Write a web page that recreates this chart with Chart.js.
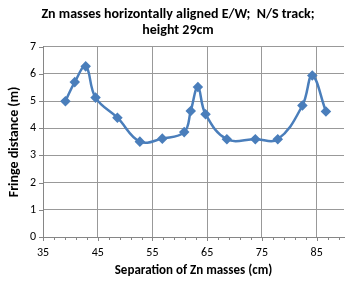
<!DOCTYPE html>
<html>
<head>
<meta charset="utf-8">
<script src="https://cdn.jsdelivr.net/npm/chart.js@4.4.0/dist/chart.umd.min.js"></script>
<style>
  body { margin: 0; background: #fff; }
  #wrap { width: 350px; height: 283px; }
</style>
</head>
<body>
<div id="wrap"><canvas id="myChart" width="350" height="283"></canvas></div>
<script>
// separation of Zn masses (cm)
const separation = [39.1, 40.8, 42.8, 44.6, 48.6, 52.7, 56.8, 60.8, 62.0, 63.3, 64.7, 68.6, 73.8, 77.9, 82.4, 84.2, 86.7];
// fringe distance (m)
const fringe = [5.0, 5.7, 6.28, 5.13, 4.39, 3.51, 3.62, 3.86, 4.64, 5.52, 4.52, 3.6, 3.6, 3.6, 4.84, 5.94, 4.62];
const xTicks = [35, 45, 55, 65, 75, 85];
const yTicks = [0, 1, 2, 3, 4, 5, 6, 7];

const points = separation.map((x, i) => ({ x: x, y: fringe[i] }));
const font = "Calibri, Carlito, 'Open Sans', sans-serif";

// small tick marks like the spreadsheet axes
const tickMarks = {
  id: 'tickMarks',
  afterDraw(chart) {
    const ctx = chart.ctx;
    const xs = chart.scales.x, ys = chart.scales.y;
    ctx.save();
    ctx.strokeStyle = '#868686';
    ctx.lineWidth = 1;
    ctx.beginPath();
    for (let v = 35; v <= 89; v += 2) {
      const px = Math.round(xs.getPixelForValue(v)) + 0.5;
      const len = xTicks.includes(v) ? 4 : 3;
      ctx.moveTo(px, ys.bottom);
      ctx.lineTo(px, ys.bottom + len);
    }
    yTicks.forEach(v => {
      const py = Math.round(ys.getPixelForValue(v)) + 0.5;
      ctx.moveTo(xs.left - 4, py);
      ctx.lineTo(xs.left, py);
    });
    ctx.stroke();
    ctx.restore();
  }
};

new Chart(document.getElementById('myChart').getContext('2d'), {
  type: 'scatter',
  data: {
    datasets: [{
      data: points,
      showLine: true,
      tension: 0.4,
      borderColor: '#4a7ebb',
      backgroundColor: '#4a7ebb',
      borderWidth: 2.5,
      pointStyle: 'rectRot',
      pointRadius: 3.5,
      pointHoverRadius: 3.5
    }]
  },
  options: {
    responsive: false,
    animation: false,
    layout: { padding: { left: 6, right: 0, top: 0, bottom: 4 } },
    plugins: {
      legend: { display: false },
      tooltip: { enabled: false },
      title: {
        display: true,
        text: ['Zn masses horizontally aligned E/W;  N/S track;', 'height 29cm'],
        color: '#000',
        font: { family: font, size: 14, weight: 'bold', lineHeight: 1.1 },
        padding: { top: 7, bottom: 9 }
      }
    },
    scales: {
      x: {
        type: 'linear',
        min: 35,
        max: 90,
        afterBuildTicks: axis => { axis.ticks = xTicks.map(v => ({ value: v })); },
        afterFit: axis => { axis.height = 42; },
        grid: { color: '#999', drawTicks: false },
        border: { color: '#868686' },
        ticks: { color: '#000', font: { family: font, size: 12 }, padding: 9 },
        title: {
          display: true,
          text: 'Separation of Zn masses (cm)',
          color: '#000',
          font: { family: font, size: 13, weight: 'bold' },
          padding: { top: 0, bottom: 0 }
        }
      },
      y: {
        min: 0,
        max: 7,
        afterBuildTicks: axis => { axis.ticks = yTicks.map(v => ({ value: v })); },
        afterFit: axis => { axis.width = 37; },
        grid: { color: '#999', drawTicks: false },
        border: { color: '#868686' },
        ticks: { color: '#000', font: { family: font, size: 12 }, padding: 7 },
        title: {
          display: true,
          text: 'Fringe distance (m)',
          color: '#000',
          font: { family: font, size: 14, weight: 'bold' },
          padding: { top: 0, bottom: 4 }
        }
      }
    }
  },
  plugins: [tickMarks]
});
</script>
</body>
</html>
